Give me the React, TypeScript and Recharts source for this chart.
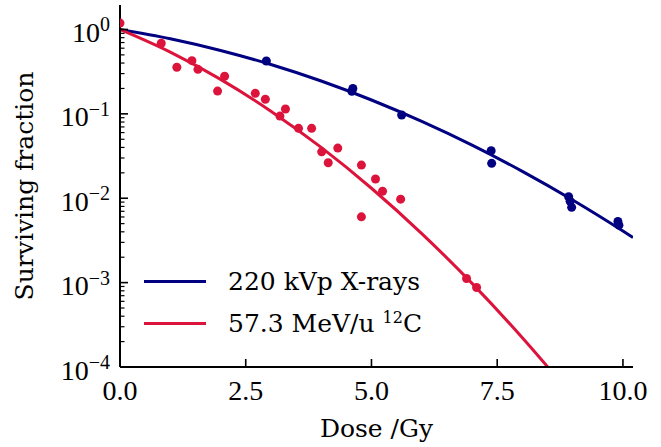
import { ComposedChart, Line, Scatter, XAxis, YAxis } from 'recharts';

// measured survival, 220 kVp X-rays
const xrayDose = [2.91, 4.61, 4.63, 5.6, 7.38, 7.39, 8.92, 8.95, 8.98, 9.9, 9.92];
const xraySF = [0.423, 0.185, 0.2, 0.097, 0.0365, 0.0259, 0.0104, 0.0092, 0.0078, 0.0053, 0.0048];

// measured survival, 57.3 MeV/u carbon ions
const carbonDose = [
  0, 0.82, 1.13, 1.43, 1.55, 1.94, 2.08, 2.69, 2.89, 3.18, 3.29, 3.55,
  3.81, 4.01, 4.14, 4.33, 4.8, 4.8, 5.08, 5.22, 5.58, 6.89, 7.09,
];
const carbonSF = [
  1.19, 0.686, 0.357, 0.427, 0.337, 0.186, 0.279, 0.175, 0.149, 0.094, 0.114, 0.0673,
  0.0673, 0.0355, 0.0263, 0.0393, 0.0247, 0.00602, 0.0169, 0.0121, 0.00976, 0.00112, 0.000875,
];

// LQ fit curves
const xrayFitDose = [0, 1, 2, 3, 4, 5, 6, 7, 8, 9, 10, 10.2];
const xrayFitSF = [1, 0.776, 0.564, 0.384, 0.245, 0.146, 0.0814, 0.0426, 0.0208, 0.00953, 0.00409, 0.00343];
const carbonFitDose = [0, 1, 2, 3, 4, 5, 6, 7, 8, 8.5];
const carbonFitSF = [1, 0.538, 0.256, 0.1077, 0.04, 0.01313, 0.00381, 0.000979, 0.000222, 0.0001009];

const xTicks = [0, 2.5, 5, 7.5, 10];
const xTickLabels = ['0.0', '2.5', '5.0', '7.5', '10.0'];
const yMajor = [1e-4, 1e-3, 1e-2, 1e-1, 1];
const yExponents = ['\u22124', '\u22123', '\u22122', '\u22121', '0'];
const minorSteps = [2, 3, 4, 5, 6, 7, 8, 9];

const BLUE = '#000080';
const RED = '#dc143c';
const LABEL_FONT = '"DejaVu Serif", serif';
const TICK_FONT = '"Liberation Serif", serif';

const legendItems = [
  { color: BLUE, label: '220 kVp X-rays', sup: '', tail: '' },
  { color: RED, label: '57.3 MeV/u ', sup: '12', tail: 'C' },
];

const toPoints = (xs: number[], ys: number[]) => xs.map((dose, i) => ({ dose, sf: ys[i] }));

const xrayPts = toPoints(xrayDose, xraySF);
const carbonPts = toPoints(carbonDose, carbonSF);
const xrayFit = toPoints(xrayFitDose, xrayFitSF);
const carbonFit = toPoints(carbonFitDose, carbonFitSF);

const yMinor = yMajor.slice(0, -1).flatMap((d) => minorSteps.map((m) => m * d));
const yTicks = [...yMajor, ...yMinor];

const frame = { stroke: '#000', strokeWidth: 2 };

function XTick({ x, y, payload }: any) {
  const i = xTicks.indexOf(payload.value);
  return (
    <g>
      <line x1={x} y1={y} x2={x} y2={y - 8} stroke="#000" strokeWidth={1.6} />
      <text x={x} y={y + 33} textAnchor="middle" fontFamily={TICK_FONT} fontSize={28} fill="#000">
        {xTickLabels[i]}
      </text>
    </g>
  );
}

function YTick({ x, y, payload }: any) {
  const i = yMajor.indexOf(payload.value);
  if (i < 0) {
    return <line x1={x} y1={y} x2={x + 4.5} y2={y} stroke="#000" strokeWidth={1.2} />;
  }
  return (
    <g>
      <line x1={x} y1={y} x2={x + 8} y2={y} stroke="#000" strokeWidth={1.6} />
      <text x={x - 10} y={y + 12.5} textAnchor="end" fontFamily={TICK_FONT} fontSize={28} fill="#000">
        10
        <tspan dy={-10.5} fontSize={20}>
          {yExponents[i]}
        </tspan>
      </text>
    </g>
  );
}

const dot = (color: string) => (p: any) => <circle cx={p.cx} cy={p.cy} r={4.5} fill={color} />;

export default function App() {
  return (
    <div style={{ position: 'absolute', left: 0, top: 0, width: 661, height: 447, background: '#fff' }}>
      <ComposedChart width={661} height={447} margin={{ top: 5, right: 28, bottom: 0, left: 0 }}>
        <XAxis
          type="number"
          dataKey="dose"
          domain={[0, 10.2]}
          ticks={xTicks}
          interval={0}
          height={80}
          tickSize={0}
          tickMargin={0}
          tickLine={false}
          axisLine={frame}
          tick={<XTick />}
          allowDataOverflow
          label={{
            value: 'Dose /Gy',
            position: 'insideBottom',
            offset: 10,
            style: { fontFamily: LABEL_FONT, fontSize: 25, fill: '#000' },
          }}
        />
        <XAxis
          xAxisId="top"
          orientation="top"
          type="number"
          domain={[0, 10.2]}
          height={0}
          tick={false}
          tickLine={false}
          axisLine={frame}
        />
        <YAxis
          type="number"
          dataKey="sf"
          scale="log"
          domain={[1e-4, 1.95]}
          ticks={yTicks}
          interval={0}
          width={120}
          tickSize={0}
          tickMargin={0}
          tickLine={false}
          axisLine={frame}
          tick={<YTick />}
          allowDataOverflow
          label={{
            value: 'Surviving fraction',
            angle: -90,
            position: 'insideLeft',
            offset: 24,
            textAnchor: 'middle',
            style: { fontFamily: LABEL_FONT, fontSize: 25, fill: '#000', textAnchor: 'middle' },
          }}
        />
        <YAxis
          yAxisId="right"
          orientation="right"
          type="number"
          domain={[0, 1]}
          width={0}
          tick={false}
          tickLine={false}
          axisLine={frame}
        />
        <Line
          data={xrayFit}
          dataKey="sf"
          type="monotone"
          stroke={BLUE}
          strokeWidth={3}
          dot={false}
          activeDot={false}
          isAnimationActive={false}
        />
        <Line
          data={carbonFit}
          dataKey="sf"
          type="monotone"
          stroke={RED}
          strokeWidth={3}
          dot={false}
          activeDot={false}
          isAnimationActive={false}
        />
        <Scatter data={xrayPts} dataKey="sf" fill={BLUE} shape={dot(BLUE)} isAnimationActive={false} />
        <Scatter data={carbonPts} dataKey="sf" fill={RED} shape={dot(RED)} isAnimationActive={false} />
      </ComposedChart>
      <div
        style={{
          position: 'absolute',
          left: 144,
          top: 260,
          fontFamily: LABEL_FONT,
          fontSize: 25,
          color: '#000',
        }}
      >
        {legendItems.map((item) => (
          <div key={item.label} style={{ display: 'flex', alignItems: 'center', height: 42 }}>
            <span style={{ width: 62, height: 3, background: item.color, marginRight: 22 }} />
            <span style={{ whiteSpace: 'nowrap' }}>
              {item.label}
              {item.sup && <sup style={{ fontSize: 16, lineHeight: 0 }}>{item.sup}</sup>}
              {item.tail}
            </span>
          </div>
        ))}
      </div>
    </div>
  );
}
